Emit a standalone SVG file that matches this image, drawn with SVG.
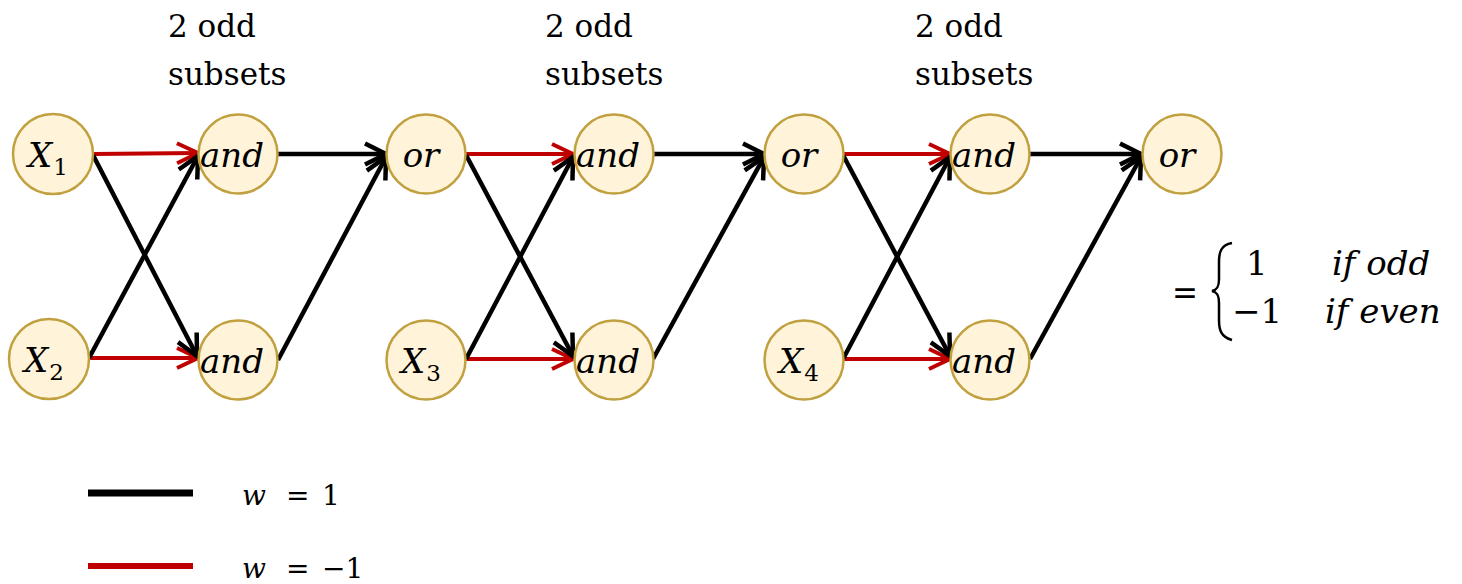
<svg xmlns="http://www.w3.org/2000/svg" width="1462" height="584" viewBox="0 0 1462 584">
<defs>
<marker id="ak" viewBox="0 0 26 26" refX="22" refY="13" markerWidth="26" markerHeight="26" markerUnits="userSpaceOnUse" orient="auto" overflow="visible">
<path d="M1,2.5 L22,13 L1,23.5" fill="none" stroke="#000" stroke-width="4.5"/>
</marker>
<marker id="ar" viewBox="0 0 26 26" refX="22" refY="13" markerWidth="26" markerHeight="26" markerUnits="userSpaceOnUse" orient="auto" overflow="visible">
<path d="M1,3 L22,13 L1,23" fill="none" stroke="#C00000" stroke-width="4"/>
</marker>
</defs>

<g id="labels" font-family="DejaVu Serif, serif" font-size="31" fill="#000">
<text x="168" y="37">2 odd</text>
<text x="168" y="85">subsets</text>
<text x="545" y="37">2 odd</text>
<text x="545" y="85">subsets</text>
<text x="915" y="37">2 odd</text>
<text x="915" y="85">subsets</text>
</g>

<g id="connectors" fill="none">
<g id="neg" stroke="#C00000" stroke-width="4" marker-end="url(#ar)">
<line x1="93" y1="154" x2="198" y2="153"/>
<line x1="89" y1="358" x2="198" y2="358"/>
<line x1="466" y1="154" x2="573" y2="154"/>
<line x1="466" y1="359" x2="573" y2="359"/>
<line x1="843" y1="154" x2="950" y2="154"/>
<line x1="843" y1="359" x2="950" y2="359"/>
</g>
<g id="pos" stroke="#000" stroke-width="4.5" marker-end="url(#ak)">
<line x1="93" y1="155" x2="197" y2="356"/>
<line x1="89" y1="358" x2="198" y2="156"/>
<line x1="278" y1="154" x2="386" y2="154"/>
<line x1="278" y1="360" x2="386" y2="157"/>
<line x1="466" y1="155" x2="573" y2="356"/>
<line x1="466" y1="359" x2="573" y2="157"/>
<line x1="653" y1="154" x2="764" y2="154"/>
<line x1="653" y1="359" x2="764" y2="157"/>
<line x1="843" y1="155" x2="950" y2="356"/>
<line x1="843" y1="359" x2="950" y2="157"/>
<line x1="1030" y1="154" x2="1141" y2="154"/>
<line x1="1030" y1="359" x2="1141" y2="157"/>
</g>
</g>

<g id="nodes" font-family="DejaVu Serif, serif" font-style="italic" font-size="34">
<g id="n-x1"><circle cx="53" cy="154" r="40" fill="#FFF4D9" stroke="#C1A040" stroke-width="2.5"/><text x="28" y="167">X<tspan font-size="23" font-style="normal" dx="1" dy="8">1</tspan></text></g>
<g id="n-x2"><circle cx="49" cy="359" r="40" fill="#FFF4D9" stroke="#C1A040" stroke-width="2.5"/><text x="24" y="372">X<tspan font-size="23" font-style="normal" dx="1" dy="8">2</tspan></text></g>
<g id="n-and1a"><circle cx="238" cy="154" r="39.5" fill="#FFF4D9" stroke="#C1A040" stroke-width="2.5"/><text x="232" y="167" text-anchor="middle">and</text></g>
<g id="n-and1b"><circle cx="238" cy="360" r="39.5" fill="#FFF4D9" stroke="#C1A040" stroke-width="2.5"/><text x="232" y="373" text-anchor="middle">and</text></g>
<g id="n-or1"><circle cx="426" cy="154" r="39.5" fill="#FFF4D9" stroke="#C1A040" stroke-width="2.5"/><text x="421" y="167" text-anchor="middle">or</text></g>
<g id="n-x3"><circle cx="426" cy="360" r="39.5" fill="#FFF4D9" stroke="#C1A040" stroke-width="2.5"/><text x="401" y="373">X<tspan font-size="23" font-style="normal" dx="1" dy="8">3</tspan></text></g>
<g id="n-and2a"><circle cx="614" cy="154" r="39.5" fill="#FFF4D9" stroke="#C1A040" stroke-width="2.5"/><text x="608" y="167" text-anchor="middle">and</text></g>
<g id="n-and2b"><circle cx="614" cy="360" r="39.5" fill="#FFF4D9" stroke="#C1A040" stroke-width="2.5"/><text x="608" y="373" text-anchor="middle">and</text></g>
<g id="n-or2"><circle cx="804" cy="154" r="39.5" fill="#FFF4D9" stroke="#C1A040" stroke-width="2.5"/><text x="799" y="167" text-anchor="middle">or</text></g>
<g id="n-x4"><circle cx="804" cy="360" r="39.5" fill="#FFF4D9" stroke="#C1A040" stroke-width="2.5"/><text x="779" y="373">X<tspan font-size="23" font-style="normal" dx="1" dy="8">4</tspan></text></g>
<g id="n-and3a"><circle cx="990" cy="154" r="39.5" fill="#FFF4D9" stroke="#C1A040" stroke-width="2.5"/><text x="984" y="167" text-anchor="middle">and</text></g>
<g id="n-and3b"><circle cx="990" cy="360" r="39.5" fill="#FFF4D9" stroke="#C1A040" stroke-width="2.5"/><text x="984" y="373" text-anchor="middle">and</text></g>
<g id="n-or3"><circle cx="1182" cy="154" r="39.5" fill="#FFF4D9" stroke="#C1A040" stroke-width="2.5"/><text x="1177" y="167" text-anchor="middle">or</text></g>
</g>

<g id="formula" font-family="DejaVu Serif, serif" font-size="34">
<text x="1172" y="304" textLength="26" lengthAdjust="spacingAndGlyphs">=</text>
<path d="M1232,243 C1221,245 1219,252 1219,262 L1219,279 C1219,287 1217,290 1212,291 C1217,292 1219,295 1219,303 L1219,320 C1219,330 1221,337 1232,340" fill="none" stroke="#000" stroke-width="2.5"/>
<text x="1246" y="275">1</text>
<text x="1332" y="275" font-style="italic">if odd</text>
<text x="1232" y="323">−1</text>
<text x="1325" y="323" font-style="italic">if even</text>
</g>

<g id="legend" font-family="DejaVu Serif, serif" font-size="28">
<line x1="88" y1="493" x2="193" y2="493" stroke="#000" stroke-width="7"/>
<line x1="88" y1="566" x2="193" y2="566" stroke="#C00000" stroke-width="6"/>
<text x="242" y="505" font-style="italic">w</text>
<text x="286" y="505">=</text>
<text x="322" y="505">1</text>
<text x="242" y="578" font-style="italic">w</text>
<text x="286" y="578">=</text>
<text x="322" y="578">−1</text>
</g>
</svg>
